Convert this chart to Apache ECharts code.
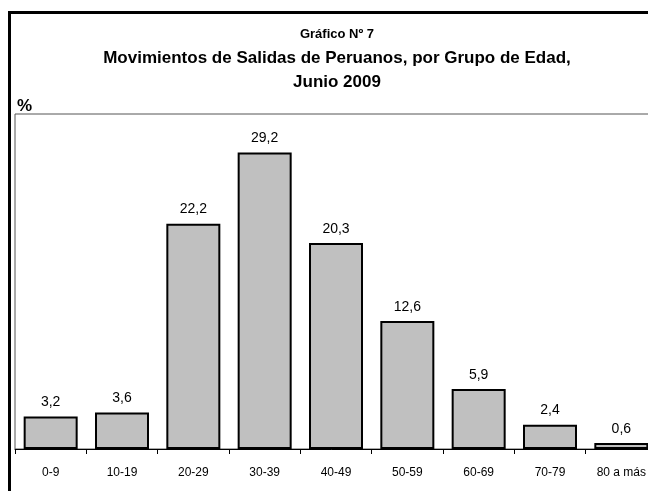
<!DOCTYPE html>
<html>
<head>
<meta charset="utf-8">
<script src="https://cdn.jsdelivr.net/npm/echarts@6/dist/echarts.min.js"></script>
<style>html,body{margin:0;padding:0;background:#fff}#c{width:648px;height:491px}</style>
</head>
<body>
<div id="c"></div>
<script>
const categories = ['0-9','10-19','20-29','30-39','40-49','50-59','60-69','70-79','80 a más'];
const values = [3.2, 3.6, 22.2, 29.2, 20.3, 12.6, 5.9, 2.4, 0.6];
const titleLine1 = 'Gráfico Nº 7';
const titleLine2 = 'Movimientos de Salidas de Peruanos, por Grupo de Edad,';
const titleLine3 = 'Junio 2009';
const unitLabel = '%';

const FONT = '"Liberation Sans","Arial",sans-serif';
const chart = echarts.init(document.getElementById('c'), null, {renderer:'canvas'});
chart.setOption({
  backgroundColor: '#fff',
  animation: false,
  title: [
    {text: titleLine1, left: 332, top: 23, textAlign: 'center',
     textStyle: {fontFamily: FONT, fontSize: 13, fontWeight: 'bold', color: '#000'}},
    {text: titleLine2, left: 332, top: 45, textAlign: 'center',
     textStyle: {fontFamily: FONT, fontSize: 17, fontWeight: 'bold', color: '#000'}},
    {text: titleLine3, left: 332, top: 69, textAlign: 'center',
     textStyle: {fontFamily: FONT, fontSize: 17, fontWeight: 'bold', color: '#000'}},
    {text: unitLabel, left: 12, top: 93,
     textStyle: {fontFamily: FONT, fontSize: 17, fontWeight: 'bold', color: '#000'}}
  ],
  graphic: [
    {type: 'rect', shape: {x: 9.5, y: 12.5, width: 720, height: 600},
     style: {fill: 'none', stroke: '#000', lineWidth: 3}, z: 100}
  ],
  grid: {left: 15, top: 114, width: 642, height: 335, show: true, outerBoundsMode: 'none',
         containLabel: false,
         borderColor: '#555', borderWidth: 1, backgroundColor: 'transparent'},
  xAxis: {
    type: 'category', data: categories,
    axisLine: {lineStyle: {color: '#000', width: 1}},
    axisTick: {show: true, length: 5, lineStyle: {color: '#000'}},
    axisLabel: {fontFamily: FONT, fontSize: 12, color: '#000', margin: 18, interval: 0}
  },
  yAxis: {type: 'value', min: 0, max: 33, show: false, splitLine: {show: false}},
  series: [{
    type: 'bar', data: values, barWidth: 54,
    itemStyle: {color: '#c0c0c0', borderColor: '#000', borderWidth: 2},
    label: {show: true, position: 'top', distance: 7, fontFamily: FONT, fontSize: 14, color: '#000',
      formatter: p => p.value.toFixed(1).replace('.', ',')}
  }]
});
</script>
</body>
</html>
